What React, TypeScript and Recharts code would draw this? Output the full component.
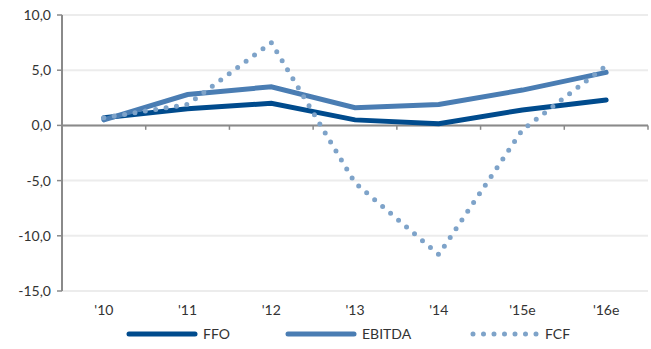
import React from "react"
import { LineChart, Line, XAxis, YAxis, CartesianGrid, ReferenceLine, Legend } from "recharts"

const categories = ["'10", "'11", "'12", "'13", "'14", "'15e", "'16e"]
const ffo = [0.7, 1.5, 2.0, 0.5, 0.15, 1.4, 2.3]
const ebitda = [0.5, 2.8, 3.5, 1.6, 1.9, 3.2, 4.8]
const fcf = [0.7, 1.9, 7.5, -5.2, -11.7, -0.4, 5.4]
const yTicks = [-15, -10, -5, 0, 5, 10]

const data = categories.map((c, i) => ({ x: i, name: c, FFO: ffo[i], EBITDA: ebitda[i], FCF: fcf[i] }))
const xTicks = categories.map((_, i) => i)
const boundaries = categories.slice(1).map((_, i) => i + 0.5).concat([categories.length - 0.5])

const font = "Lato, 'Open Sans', sans-serif"
const axisGrey = "#8a8a8a"

const series = [
  { key: "FFO", color: "#004b8d", dotted: false, left: 126, len: 72 },
  { key: "EBITDA", color: "#4a7db3", dotted: false, left: 285, len: 72 },
  { key: "FCF", color: "#7ea3c9", dotted: true, left: 470, len: 70 },
]

function LegendRow() {
  return (
    <div style={{ position: "relative", width: 651, height: 28, fontFamily: font, fontSize: 14, color: "#333" }}>
      {series.map((s) => (
        <div key={s.key} style={{ position: "absolute", left: s.left, top: 4, display: "flex", alignItems: "center" }}>
          <svg width={s.len} height={8} style={{ marginRight: 5 }}>
            <line
              x1={3} y1={4} x2={s.len - 3} y2={4}
              stroke={s.color}
              strokeWidth={5}
              strokeLinecap="round"
              strokeDasharray={s.dotted ? "0 10.5" : undefined}
            />
          </svg>
          <span>{s.key}</span>
        </div>
      ))}
    </div>
  )
}

export default function App() {
  return (
    <div style={{ position: "absolute", left: 0, top: 0, background: "#fff" }}>
      <LineChart width={651} height={349} data={data} margin={{ top: 15, right: 3, left: 0, bottom: 0 }}>
        <CartesianGrid vertical={false} stroke="#ececec" strokeWidth={2} />
        <XAxis
          dataKey="x"
          type="number"
          domain={[-0.5, categories.length - 0.5]}
          ticks={xTicks}
          tickFormatter={(v) => categories[v]}
          axisLine={false}
          tickLine={false}
          tickSize={0}
          tickMargin={14}
          height={30}
          tick={{ fill: "#333", fontSize: 14, fontFamily: font }}
        />
        <YAxis
          domain={[-15, 10]}
          ticks={yTicks}
          tickFormatter={(v) => v.toFixed(1).replace(".", ",")}
          width={62}
          tickSize={5}
          tickMargin={6}
          axisLine={{ stroke: axisGrey, strokeWidth: 2 }}
          tickLine={{ stroke: axisGrey, strokeWidth: 1.5 }}
          tick={{ fill: "#333", fontSize: 14, fontFamily: font }}
        />
        <ReferenceLine y={0} stroke={axisGrey} strokeWidth={2} />
        {boundaries.map((b) => (
          <ReferenceLine key={b} segment={[{ x: b, y: 0 }, { x: b, y: -0.4 }]} stroke={axisGrey} strokeWidth={1.5} />
        ))}
        <Legend verticalAlign="bottom" height={28} content={() => <LegendRow />} wrapperStyle={{ left: 0, width: 651 }} />
        {series.map((s) => (
          <Line
            key={s.key}
            type="linear"
            dataKey={s.key}
            stroke={s.color}
            strokeWidth={5}
            strokeLinecap="round"
            strokeDasharray={s.dotted ? "0 10.5" : undefined}
            dot={false}
            activeDot={false}
            isAnimationActive={false}
          />
        ))}
      </LineChart>
    </div>
  )
}
